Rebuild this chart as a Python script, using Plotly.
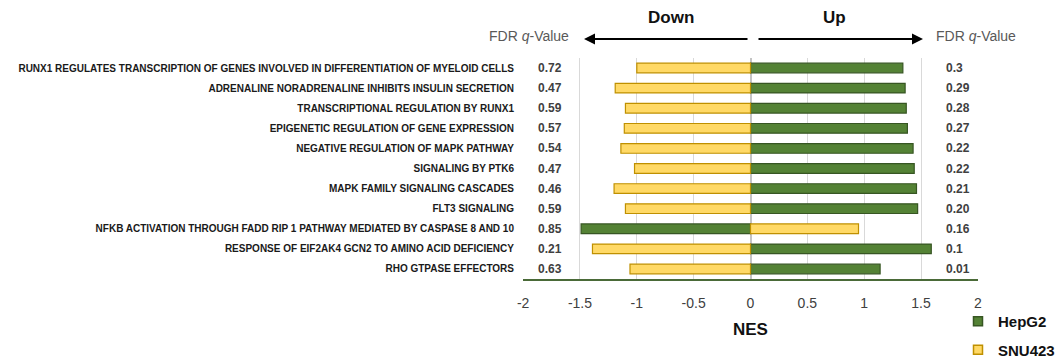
import plotly.graph_objects as go

# Reactome pathways, top to bottom
pathways = [
    "RUNX1 REGULATES TRANSCRIPTION OF GENES INVOLVED IN DIFFERENTIATION OF MYELOID CELLS",
    "ADRENALINE NORADRENALINE INHIBITS INSULIN SECRETION",
    "TRANSCRIPTIONAL REGULATION BY RUNX1",
    "EPIGENETIC REGULATION OF GENE EXPRESSION",
    "NEGATIVE REGULATION OF MAPK PATHWAY",
    "SIGNALING BY PTK6",
    "MAPK FAMILY SIGNALING CASCADES",
    "FLT3 SIGNALING",
    "NFKB ACTIVATION THROUGH FADD RIP 1 PATHWAY MEDIATED BY CASPASE 8 AND 10",
    "RESPONSE OF EIF2AK4 GCN2 TO AMINO ACID DEFICIENCY",
    "RHO GTPASE EFFECTORS",
]

# Normalized enrichment scores
nes_hepg2 = [1.34, 1.36, 1.37, 1.38, 1.43, 1.44, 1.46, 1.47, -1.49, 1.59, 1.14]
nes_snu423 = [-1.00, -1.19, -1.10, -1.11, -1.14, -1.02, -1.20, -1.10, 0.95, -1.39, -1.06]

# FDR q-values for the down- and up-regulated side of each pathway
fdr_down = ["0.72", "0.47", "0.59", "0.57", "0.54", "0.47", "0.46", "0.59", "0.85", "0.21", "0.63"]
fdr_up = ["0.3", "0.29", "0.28", "0.27", "0.22", "0.22", "0.21", "0.20", "0.16", "0.1", "0.01"]

x_ticks = [-2, -1.5, -1, -0.5, 0, 0.5, 1, 1.5, 2]

W, H = 1061, 360
PL, PR, PT, PB = 523, 978, 58, 279  # plot area in pixels


def px_x(p):
    return (p - PL) / (PR - PL)


def px_y(p):
    return (PB - p) / (PB - PT)


GREEN, GREEN_EDGE = "#548235", "#375623"
YELLOW, YELLOW_EDGE = "#FFD966", "#BF9000"
FONT = "Liberation Sans, Arial, sans-serif"

fig = go.Figure()
fig.add_trace(go.Bar(
    y=pathways, x=nes_hepg2, orientation="h", name="HepG2", width=0.48,
    marker=dict(color=GREEN, line=dict(color=GREEN_EDGE, width=1.2)),
    showlegend=False,
))
fig.add_trace(go.Bar(
    y=pathways, x=nes_snu423, orientation="h", name="SNU423", width=0.48,
    marker=dict(color=YELLOW, line=dict(color=YELLOW_EDGE, width=1.2)),
    showlegend=False,
))

# Legend entries with small square swatches
for nm, fill, edge, grp in [("HepG2", GREEN, GREEN_EDGE, "a"), ("SNU423", YELLOW, YELLOW_EDGE, "b")]:
    fig.add_trace(go.Scatter(
        x=[None], y=[None], mode="markers", name=nm, legendgroup=grp,
        marker=dict(symbol="square", size=9, color=fill, line=dict(color=edge, width=1.5)),
    ))

annotations = []
num_font = dict(family=FONT, size=12, color="#404040")
for name, qd, qu in zip(pathways, fdr_down, fdr_up):
    annotations.append(dict(x=-1.885, y=name, xref="x", yref="y", text="<b>%s</b>" % qd,
                            showarrow=False, xanchor="left", font=num_font))
    annotations.append(dict(x=1.70, y=name, xref="x", yref="y", text="<b>%s</b>" % qu,
                            showarrow=False, xanchor="left", font=num_font))

hdr_font = dict(family=FONT, size=14, color="#595959")
annotations += [
    dict(x=px_x(571), y=px_y(36), xref="paper", yref="paper", text="FDR <i>q</i>-Value",
         showarrow=False, xanchor="right", yanchor="middle", font=hdr_font),
    dict(x=px_x(934), y=px_y(36), xref="paper", yref="paper", text="FDR <i>q</i>-Value",
         showarrow=False, xanchor="left", yanchor="middle", font=hdr_font),
    dict(x=px_x(671), y=px_y(17), xref="paper", yref="paper", text="<b>Down</b>",
         showarrow=False, xanchor="center", yanchor="middle",
         font=dict(family=FONT, size=17, color="#111111")),
    dict(x=px_x(834), y=px_y(17), xref="paper", yref="paper", text="<b>Up</b>",
         showarrow=False, xanchor="center", yanchor="middle",
         font=dict(family=FONT, size=17, color="#111111")),
    dict(x=px_x(584), y=px_y(39), xref="paper", yref="paper", text="",
         showarrow=True, ax=165, ay=0, arrowhead=2, arrowsize=1.1, arrowwidth=2,
         arrowcolor="#000000"),
    dict(x=px_x(923), y=px_y(39), xref="paper", yref="paper", text="",
         showarrow=True, ax=-166, ay=0, arrowhead=2, arrowsize=1.1, arrowwidth=2,
         arrowcolor="#000000"),
    dict(x=px_x(750), y=px_y(329), xref="paper", yref="paper", text="<b>NES</b>",
         showarrow=False, xanchor="center", yanchor="middle",
         font=dict(family=FONT, size=17, color="#111111")),
]

fig.update_layout(
    width=W, height=H,
    margin=dict(l=PL, r=W - PR, t=PT, b=H - PB, pad=0, autoexpand=False),
    paper_bgcolor="white", plot_bgcolor="white",
    barmode="relative",
    showlegend=True,
    legend=dict(x=px_x(958), y=px_y(305), xref="paper", yref="paper",
                xanchor="left", yanchor="top", tracegroupgap=6,
                font=dict(family=FONT, size=15, color="#111111", weight="bold"),
                bgcolor="rgba(0,0,0,0)", itemwidth=30, itemsizing="trace"),
    xaxis=dict(range=[-2.001, 2.001], tickvals=x_ticks,
               ticktext=[("%g" % v) for v in x_ticks],
               showgrid=True, gridcolor="#d9d9d9", gridwidth=1,
               zeroline=True, zerolinecolor="#c4c4c4", zerolinewidth=1.5,
               showline=True, linecolor="#4a6a38", linewidth=1.5,
               ticks="", ticklabelstandoff=10,
               tickfont=dict(family=FONT, size=14, color="#404040"),
               fixedrange=True),
    yaxis=dict(categoryorder="array", categoryarray=pathways, autorange="reversed",
               showgrid=False, zeroline=False, showline=False, ticks="",
               ticklabelstandoff=8,
               tickfont=dict(family=FONT, size=10, color="#1a1a1a", weight="bold"),
               fixedrange=True),
    annotations=annotations,
)

fig.write_html("out.html")
